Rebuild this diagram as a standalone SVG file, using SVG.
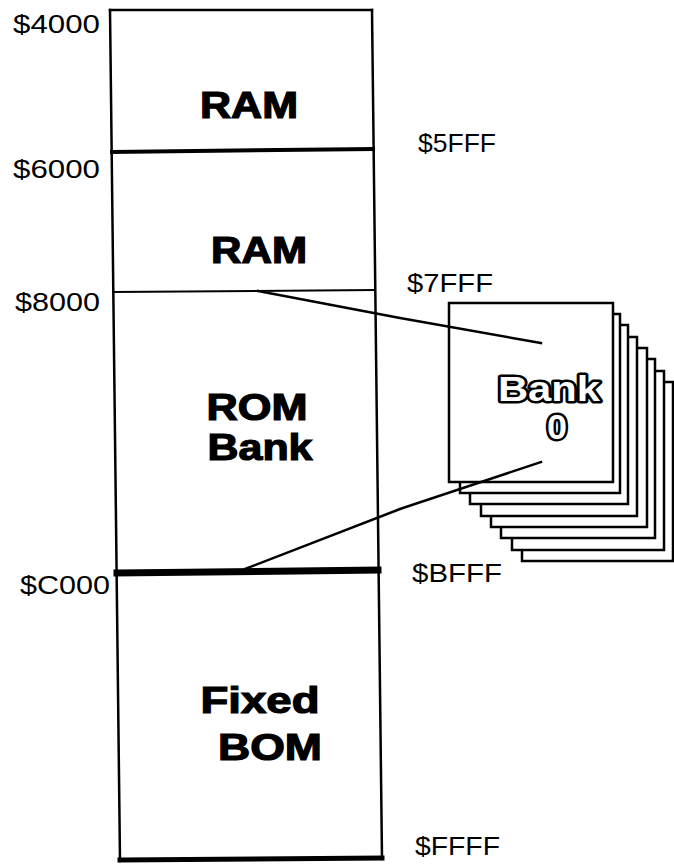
<svg xmlns="http://www.w3.org/2000/svg" width="674" height="867" viewBox="0 0 674 867">
<style>
.ln{stroke:#000;fill:none;stroke-linecap:square}
.addr{font-family:"Liberation Sans",Arial,sans-serif;font-size:25px;fill:#000}
.big{font-family:"Liberation Sans",Arial,sans-serif;font-size:36px;font-weight:bold;fill:#000;stroke:#000;stroke-width:1.2}
.card{fill:#fff;stroke:#000;stroke-width:2.5}
.outl{font-family:"Liberation Sans",Arial,sans-serif;font-size:35px;font-weight:bold;fill:#fff;stroke:#000;stroke-width:5;paint-order:stroke;stroke-linejoin:round}
</style>
<rect width="674" height="867" fill="#fff"/>
<g id="memory-map">
  <line class="ln" x1="110" y1="10" x2="120" y2="861" stroke-width="2.5"/>
  <line class="ln" x1="372" y1="10" x2="382" y2="859" stroke-width="2.5"/>
  <line class="ln" x1="110" y1="10" x2="372" y2="10" stroke-width="2.5"/>
</g>
<g id="ram1">
  <line class="ln" x1="112" y1="152" x2="373" y2="149" stroke-width="4"/>
  <text class="big" x="249" y="118" text-anchor="middle" textLength="98" lengthAdjust="spacingAndGlyphs">RAM</text>
</g>
<g id="ram2">
  <line class="ln" x1="113" y1="292" x2="375" y2="290" stroke-width="2"/>
  <text class="big" x="259" y="263" text-anchor="middle" textLength="96" lengthAdjust="spacingAndGlyphs">RAM</text>
</g>
<g id="rom-bank">
  <line class="ln" x1="117" y1="573" x2="378" y2="570" stroke-width="7"/>
  <text class="big" x="257" y="420" text-anchor="middle" textLength="101" lengthAdjust="spacingAndGlyphs">ROM</text>
  <text class="big" x="260" y="460" text-anchor="middle" textLength="105" lengthAdjust="spacingAndGlyphs">Bank</text>
</g>
<g id="fixed-rom">
  <line class="ln" x1="120" y1="860" x2="382" y2="858" stroke-width="5"/>
  <text class="big" x="260" y="713" text-anchor="middle" textLength="119" lengthAdjust="spacingAndGlyphs">Fixed</text>
  <text class="big" x="270" y="760" text-anchor="middle" textLength="104" lengthAdjust="spacingAndGlyphs">BOM</text>
</g>
<g id="addresses">
  <text class="addr" x="13" y="33" textLength="87" lengthAdjust="spacingAndGlyphs">$4000</text>
  <text class="addr" x="13" y="178" textLength="87" lengthAdjust="spacingAndGlyphs">$6000</text>
  <text class="addr" x="15" y="311" textLength="85" lengthAdjust="spacingAndGlyphs">$8000</text>
  <text class="addr" x="20" y="594" textLength="90" lengthAdjust="spacingAndGlyphs">$C000</text>
  <text class="addr" x="418" y="152" textLength="78" lengthAdjust="spacingAndGlyphs">$5FFF</text>
  <text class="addr" x="407" y="292" textLength="86" lengthAdjust="spacingAndGlyphs">$7FFF</text>
  <text class="addr" x="412" y="582" textLength="90" lengthAdjust="spacingAndGlyphs">$BFFF</text>
  <text class="addr" x="415" y="855" textLength="85" lengthAdjust="spacingAndGlyphs">$FFFF</text>
</g>
<g id="bank-stack">
  <rect class="card" x="522" y="382" width="151" height="179"/>
  <rect class="card" x="512" y="371" width="152" height="179"/>
  <rect class="card" x="501" y="359" width="154" height="179"/>
  <rect class="card" x="491" y="348" width="156" height="179"/>
  <rect class="card" x="481" y="337" width="156" height="179"/>
  <rect class="card" x="470" y="325" width="158" height="179"/>
  <rect class="card" x="460" y="314" width="160" height="179"/>
  <rect class="card" x="449" y="303" width="164" height="179"/>
  <text class="outl" x="549" y="401" text-anchor="middle" textLength="102" lengthAdjust="spacingAndGlyphs">Bank</text>
  <text class="outl" x="557" y="439" text-anchor="middle" textLength="20" lengthAdjust="spacingAndGlyphs">0</text>
</g>
<g id="connectors">
  <polyline class="ln" points="258,291 400,318 541,343" stroke-width="2.5"/>
  <polyline class="ln" points="245,569 400,509 541,462" stroke-width="2.5"/>
</g>
</svg>
